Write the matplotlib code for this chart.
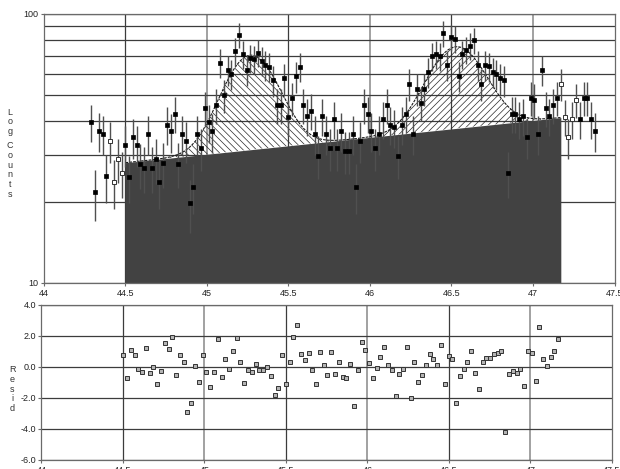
import numpy as np
import matplotlib.pyplot as plt
from matplotlib.ticker import FixedLocator, FixedFormatter, NullFormatter

plt.rcParams['font.family'] = ['Liberation Sans', 'DejaVu Sans']
plt.rcParams['hatch.linewidth'] = 0.5

# spectrum counts per channel
counts = np.array([
    39.7, 21.7, 36.8, 35.9, 24.9, 33.7, 23.7, 28.9, 25.7, 32.7,
    24.8, 34.8, 32.7, 27.7, 26.8, 35.8, 26.8, 28.8, 23.7, 27.9,
    38.8, 36.6, 42.6, 27.8, 35.8, 33.7, 19.8, 22.8, 35.8, 31.8,
    44.6, 39.5, 36.6, 45.8, 65.9, 49.9, 61.9, 59.7, 72.7, 83.8,
    70.8, 61.7, 68.6, 67.9, 71.8, 66.9, 64.6, 63.7, 56.8, 45.9,
    45.9, 57.7, 41.5, 48.6, 58.7, 63.7, 45.9, 41.7, 43.7, 35.8,
    29.7, 41.7, 35.8, 31.8, 40.7, 31.8, 36.7, 30.9, 30.9, 35.8,
    22.8, 33.7, 45.9, 42.6, 36.7, 31.8, 35.8, 40.7, 45.9, 38.8,
    37.9, 29.7, 38.8, 42.6, 55.1, 35.8, 52.6, 46.7, 52.6, 60.9,
    69.8, 70.8, 69.8, 84.8, 64.6, 81.9, 80.9, 58.8, 71.0, 73.7,
    76.2, 80.1, 64.6, 55.1, 64.6, 63.9, 60.9, 59.8, 57.7, 56.8,
    25.7, 42.6, 42.6, 40.7, 41.7, 34.8, 48.7, 47.9, 35.8, 61.9,
    44.7, 41.7, 45.9, 48.7, 55.1, 41.5, 34.8, 40.7, 47.9, 40.7,
    48.7, 48.7, 40.7, 36.7,
])
first_channel = 44.2925
channel_width = 0.023211
excluded = [5, 6, 7, 8, 124, 125, 126, 127, 128]

# fit region (channel indices) and its residuals
fit_lo, fit_hi = 9, 124
resid = np.array([
    0.77, -0.71, 1.07, 0.75, -0.16, -0.35, 1.20, -0.41, -0.02, -1.08,
    -0.26, 1.52, 1.14, 1.91, -0.54, 0.79, 0.34, -2.93, -2.35, 0.04,
    -0.99, 0.77, -0.35, -1.31, -0.30, 1.82, -0.67, 0.49, -0.16, 1.05,
    1.85, 0.30, -1.03, -0.22, -0.35, 0.19, -0.22, -0.22, -0.02, -0.60,
    -1.83, -1.38, 0.75, -1.12, 0.34, 1.91, 2.73, 0.81, 0.45, 0.92,
    -0.17, -1.12, 0.94, 0.10, -0.54, 0.94, -0.48, 0.34, -0.67, -0.73,
    0.17, -2.50, -0.17, 1.59, 1.12, 0.23, -0.73, -0.05, 0.62, 1.27,
    0.13, -0.17, -1.85, -0.43, -0.11, 1.27, -1.98, 0.32, -0.95, -0.50,
    0.13, 0.81, 0.53, 0.10, 1.39, -1.12, 0.73, 0.49, -2.30, -0.59,
    -0.11, 0.32, 1.05, -0.41, -1.40, 0.32, 0.60, 0.60, 0.81, 0.88,
    1.01, -4.22, -0.43, -0.28, -0.41, -0.11, -1.20, 1.01, 0.92, -0.93,
    2.58, 0.49, 0.04, 0.64, 1.05, 1.78,
])

# fitted model: background line + two gaussian peaks
bg_counts = [28.0, 41.2]
peak_center = [45.27, 46.53]
peak_height = [39.0, 38.0]
peak_sigma = [0.158, 0.165]

xticks = [44, 44.5, 45, 45.5, 46, 46.5, 47, 47.5]
xticklabels = ['44', '44.5', '45', '45.5', '46', '46.5', '47', '47.5']
rticks = [-6, -4, -2, 0, 2, 4]
rticklabels = ['-6.0', '-4.0', '-2.0', '0.0', '2.0', '4.0']

x = first_channel + channel_width * np.arange(len(counts))
err = np.sqrt(counts)
is_open = np.zeros(len(counts), bool)
is_open[excluded] = True

bg_x = [x[fit_lo], x[fit_hi]]
xf = np.linspace(bg_x[0], bg_x[1], 500)
bg = 10 ** np.interp(xf, bg_x, np.log10(bg_counts))
p1 = peak_height[0] * np.exp(-0.5 * ((xf - peak_center[0]) / peak_sigma[0]) ** 2)
p2 = peak_height[1] * np.exp(-0.5 * ((xf - peak_center[1]) / peak_sigma[1]) ** 2)
model = bg + p1 + p2

fig = plt.figure(figsize=(6.2, 4.69), dpi=100)
ax = fig.add_axes([0.0702, 0.3966, 0.921, 0.5736])
ax2 = fig.add_axes([0.0669, 0.0192, 0.920, 0.3305])

grid_dark = '#3c3c3c'
grid_light = '#9a9a9a'


def style_x(a):
    a.set_xlim(44, 47.5)
    a.set_xticks(xticks)
    a.set_xticklabels(xticklabels)
    # whole-number lines come out lighter than the half-unit ones
    for v in xticks[1:-1]:
        light = v == int(v)
        a.axvline(v, color=grid_light if light else grid_dark,
                  lw=1.3 if light else 0.9, zorder=0)
    for s in a.spines.values():
        s.set_color('#6a6a6a')
        s.set_linewidth(0.9)
    a.tick_params(which='major', length=2.5, width=0.8, pad=1.5,
                  labelsize=6.5, colors='#6a6a6a', labelcolor='#222222')


# ---- counts panel ----
ax.set_yscale('log')
ax.set_ylim(10, 100)
ax.yaxis.set_major_locator(FixedLocator([10, 100]))
ax.yaxis.set_major_formatter(FixedFormatter(['10', '100']))
ax.yaxis.set_minor_locator(FixedLocator([20, 30, 40, 50, 60, 70, 80, 90]))
ax.yaxis.set_minor_formatter(NullFormatter())
ax.tick_params(axis='y', which='minor', length=0)
ax.grid(True, axis='y', which='both', color=grid_dark, lw=0.9, zorder=0)
ax.set_axisbelow(True)
style_x(ax)

ax.fill_between(bg_x, 10, bg_counts, color='#424242', lw=0, zorder=1)
ax.fill_between(xf, bg, bg + p1, facecolor='none', edgecolor='#2a2a2a',
                hatch='\\\\\\\\\\', lw=0, zorder=1.5)
ax.fill_between(xf, bg + p1, model, facecolor='none', edgecolor='#2a2a2a',
                hatch='/////', lw=0, zorder=1.5)
ax.plot(xf, model, color='#1a1a1a', lw=0.8, ls=(0, (2.5, 1)), zorder=2)

ax.errorbar(x, counts, yerr=err, fmt='none', ecolor='#505050',
            elinewidth=1.0, capsize=0, zorder=3)
ax.plot(x[~is_open], counts[~is_open], 's', ms=3, mfc='black', mec='black',
        mew=0.5, zorder=4)
ax.plot(x[is_open], counts[is_open], 's', ms=3.2, mfc='white', mec='#333333',
        mew=0.7, zorder=4)

# ---- residual panel ----
ax2.set_ylim(-6, 4)
ax2.set_yticks(rticks)
ax2.set_yticklabels(rticklabels)
ax2.grid(True, axis='y', color=grid_dark, lw=0.9, zorder=0)
ax2.set_axisbelow(True)
style_x(ax2)
ax2.plot(x[fit_lo:fit_hi + 1], resid, 's', ms=3, mfc='#b4b4b4',
         mec='#333333', mew=0.7, zorder=3)

# stacked axis titles
lab = dict(ha='center', va='center', fontsize=6.5, linespacing=1.1,
           color='#333333')
fig.text(10 / 620, 1 - 122 / 469, 'L\no\ng', **lab)
fig.text(10 / 620, 1 - 170 / 469, 'C\no\nu\nn\nt\ns', **lab)
fig.text(12 / 620, 1 - 389 / 469, 'R\ne\ns\ni\nd', **lab)

fig.savefig('out.png', dpi=100)
